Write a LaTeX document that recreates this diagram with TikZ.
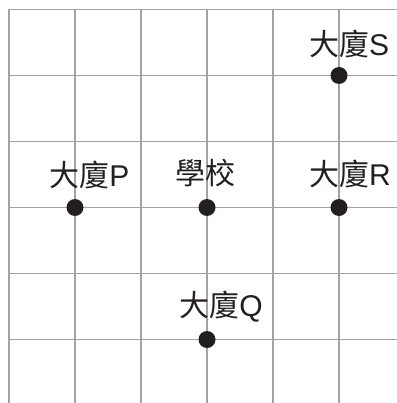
\documentclass[tikz,border=0pt]{standalone}
\usepackage{fontspec}
\setmainfont{Liberation Sans}
\newfontfamily\cjk{Noto Sans CJK TC}
\definecolor{gridgray}{HTML}{A3A3A3}
\definecolor{inkc}{HTML}{231F20}
\begin{document}
\begin{tikzpicture}[x=1pt,y=-1pt,
  gridline/.style={draw=gridgray,line width=1.5pt},
  dot/.style={circle,fill=inkc,inner sep=0pt,minimum size=17pt},
  lbl/.style={text=inkc,font=\fontsize{30}{30}\selectfont,inner sep=0pt}]
\useasboundingbox (0,0) rectangle (396,403);
\foreach \i in {0,...,5} {
  \draw[gridline] (9+66*\i,9.5) -- (9+66*\i,404);
  \draw[gridline] (9,9.5+66*\i) -- (397,9.5+66*\i);
}
\node[dot] (s) at (339,75.5) {};
\node[dot] (p) at (75,207.5) {};
\node[dot] (school) at (207,207.5) {};
\node[dot] (r) at (339,207.5) {};
\node[dot] (q) at (207,339.5) {};
\node[lbl] (ls) at (349,44) {{\cjk 大廈}S};
\node[lbl] (lp) at (89.5,174.5) {{\cjk 大廈}P};
\node[lbl] (lschool) at (205.5,173.5) {{\cjk 學校}};
\node[lbl] (lr) at (350,174) {{\cjk 大廈}R};
\node[lbl] (lq) at (221,307) {{\cjk 大廈}Q};
\end{tikzpicture}
\end{document}
